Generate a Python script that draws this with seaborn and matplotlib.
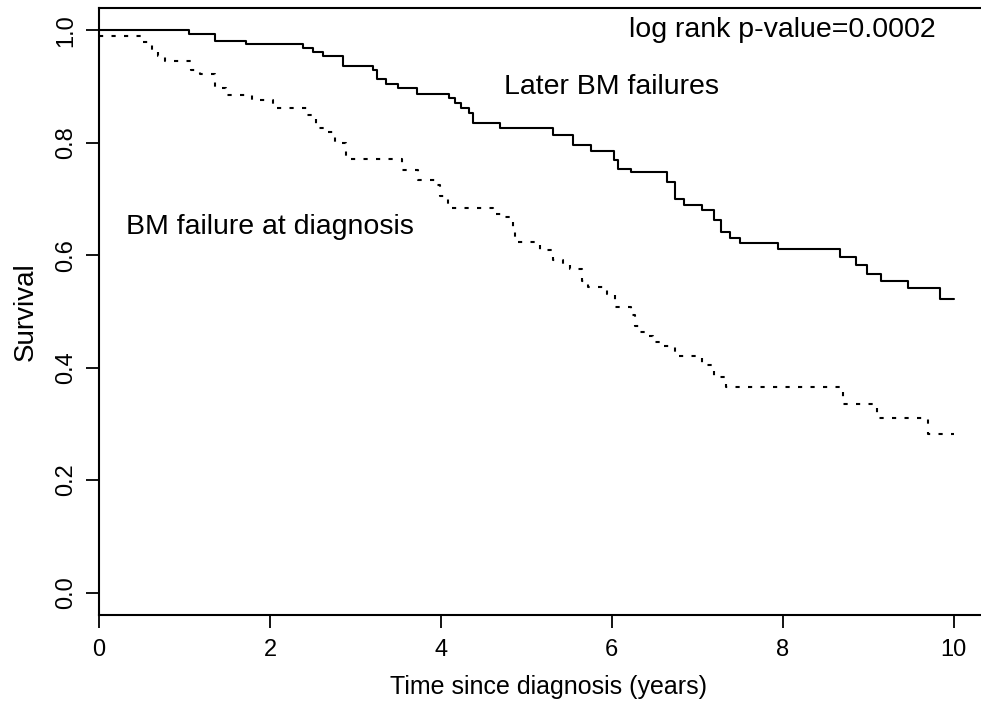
import numpy as np
import pandas as pd
import matplotlib
matplotlib.use("Agg")
import matplotlib.pyplot as plt
import seaborn as sns

# Kaplan-Meier style step curves
later_time = [0, 1.05, 1.36, 1.72, 2.39, 2.50, 2.62, 2.85, 3.20, 3.25, 3.36, 3.50, 3.72,
              4.10, 4.16, 4.24, 4.33, 4.38, 4.69, 5.31, 5.55, 5.76, 6.02, 6.07, 6.23,
              6.64, 6.74, 6.85, 7.05, 7.20, 7.28, 7.38, 7.50, 7.95, 8.67, 8.86, 8.98,
              9.15, 9.47, 9.84, 10.0]
later_surv = [1.0, 0.994, 0.982, 0.976, 0.969, 0.962, 0.955, 0.936, 0.929, 0.913, 0.904,
              0.898, 0.887, 0.879, 0.871, 0.862, 0.853, 0.836, 0.827, 0.814, 0.796, 0.786,
              0.770, 0.754, 0.748, 0.730, 0.701, 0.689, 0.680, 0.663, 0.642, 0.630, 0.621,
              0.612, 0.597, 0.582, 0.567, 0.555, 0.541, 0.522, 0.522]

diag_time = [0, 0.52, 0.62, 0.69, 0.77, 1.08, 1.18, 1.36, 1.49, 1.79, 2.04, 2.43, 2.54,
             2.64, 2.76, 2.89, 3.54, 3.73, 3.96, 3.99, 4.08, 4.61, 4.72, 4.84, 4.87,
             5.16, 5.31, 5.43, 5.51, 5.65, 5.72, 5.94, 6.04, 6.23, 6.27, 6.33, 6.42,
             6.48, 6.58, 6.74, 7.05, 7.20, 7.34, 8.70, 9.10, 9.70, 10.0]
diag_surv = [0.991, 0.979, 0.965, 0.954, 0.945, 0.930, 0.923, 0.898, 0.886, 0.877, 0.862,
             0.850, 0.826, 0.820, 0.800, 0.771, 0.752, 0.734, 0.725, 0.705, 0.684, 0.674,
             0.669, 0.645, 0.624, 0.609, 0.591, 0.585, 0.576, 0.555, 0.543, 0.532, 0.508,
             0.493, 0.475, 0.463, 0.457, 0.445, 0.439, 0.421, 0.404, 0.383, 0.365, 0.335,
             0.311, 0.282, 0.282]

x_ticks = [0, 2, 4, 6, 8, 10]
y_ticks = [0.0, 0.2, 0.4, 0.6, 0.8, 1.0]

df = pd.concat([
    pd.DataFrame({"time": later_time, "surv": later_surv, "group": "Later BM failures"}),
    pd.DataFrame({"time": diag_time, "surv": diag_surv, "group": "BM failure at diagnosis"}),
])

sns.set_style("ticks")
plt.rcParams["font.family"] = ["Liberation Sans", "DejaVu Sans"]
for key in ["text.color", "axes.labelcolor", "xtick.color", "ytick.color", "axes.edgecolor"]:
    plt.rcParams[key] = "black"

fig = plt.figure(figsize=(9.81, 7.07), dpi=100)
# right edge of the frame falls just outside the image, as in the original
ax = fig.add_axes([99 / 981, 92 / 707, 900 / 981, 607 / 707])

sns.lineplot(data=df, x="time", y="surv", style="group",
             dashes={"Later BM failures": "", "BM failure at diagnosis": (2, 4)},
             color="black", linewidth=1.5, drawstyle="steps-post",
             estimator=None, legend=False, ax=ax)

ax.set_xlim(0, 10.53)
ax.set_ylim(-0.04, 1.04)
ax.set_xticks(x_ticks)
ax.set_yticks(y_ticks)
ax.set_xticklabels([str(t) for t in x_ticks], fontsize=17)
ax.set_yticklabels([f"{t:.1f}" for t in y_ticks], fontsize=17, rotation=90, va="center")
ax.tick_params(length=9.4, width=1.3, pad=8, direction="out")
ax.tick_params(axis="y", pad=6)
for s in ax.spines.values():
    s.set_linewidth(1.5)

ax.set_xlabel("Time since diagnosis (years)", fontsize=18, labelpad=10)
ax.set_ylabel("Survival", fontsize=20, labelpad=12)

ax.text(8, 1.0, "log rank p-value=0.0002", ha="center", va="center", fontsize=20.5)
ax.text(6, 0.9, "Later BM failures", ha="center", va="center", fontsize=20.5)
ax.text(2, 0.65, "BM failure at diagnosis", ha="center", va="center", fontsize=20.5)

fig.savefig("out.png", dpi=100)
